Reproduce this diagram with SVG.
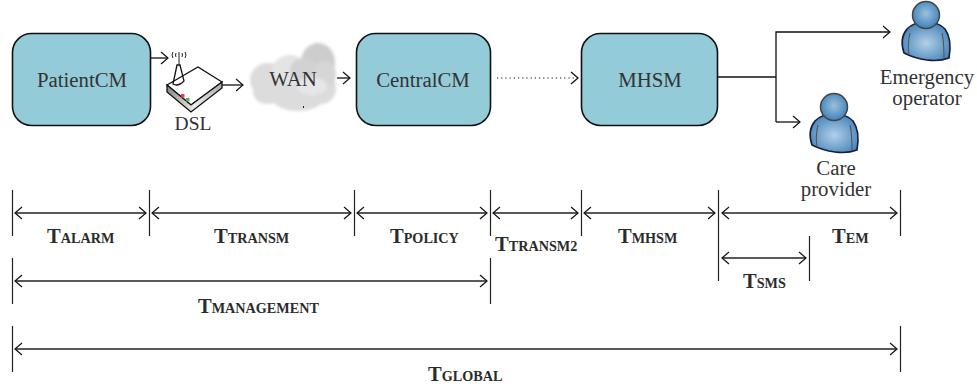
<svg xmlns="http://www.w3.org/2000/svg" width="977" height="391" viewBox="0 0 977 391">
<style>
.box{fill:#94cbd8;stroke:#111;stroke-width:1.6}
.m{font-family:"Liberation Serif",serif;font-size:20.800px;fill:#333;text-anchor:middle}
.l{font-family:"Liberation Serif",serif;font-size:20.500px;font-weight:bold;fill:#2b2b2b}
.s{font-size:14.200px}
.c{fill:none;stroke:#111;stroke-width:1.3}
.a{marker-end:url(#ah)}
.d{marker-start:url(#as);marker-end:url(#ah)}
.k{stroke:#222;stroke-width:1.2}
.o{stroke:#222;stroke-width:1.4;fill:none}
</style>
<defs>
<marker id="ah" markerWidth="12" markerHeight="14" refX="9" refY="7" orient="auto" markerUnits="userSpaceOnUse"><path d="M2 1 L9 7 L2 13" fill="none" stroke="#111" stroke-width="1.2"/></marker>
<marker id="as" markerWidth="12" markerHeight="14" refX="3" refY="7" orient="auto" markerUnits="userSpaceOnUse"><path d="M10 1 L3 7 L10 13" fill="none" stroke="#111" stroke-width="1.2"/></marker>
<radialGradient id="pb" cx="50%" cy="55%" r="60%"><stop offset="0" stop-color="#b4cfe6"/><stop offset="1" stop-color="#3f82ba"/></radialGradient>
<radialGradient id="ph" cx="50%" cy="45%" r="55%"><stop offset="0" stop-color="#9dc0de"/><stop offset="1" stop-color="#3f82ba"/></radialGradient>
<linearGradient id="rt" x1="0" y1="0" x2="1" y2="0"><stop offset="0" stop-color="#888"/><stop offset="0.5" stop-color="#eee"/><stop offset="1" stop-color="#aaa"/></linearGradient>
<filter id="bl" x="-10%" y="-10%" width="120%" height="120%"><feGaussianBlur stdDeviation="1.5"/></filter>
<g id="person">
<path d="M-19 -12 C-11 -21 11 -21 19 -12 C24 -5 25 6 23 17 C10 22 -8 19 -22 12 C-25 3 -24 -6 -19 -12Z" fill="url(#pb)" stroke="#1b1b3a" stroke-width="1.6"/>
<path d="M-16 -8 C-18 0 -18 8 -17 14 M16 -8 C18 0 18 8 18 18" fill="none" stroke="#555" stroke-width="1.1"/>
<circle cx="0" cy="-26" r="13.5" fill="url(#ph)" stroke="#444" stroke-width="1.5"/>
</g>
</defs>
<rect width="977" height="391" fill="#fff"/>

<g id="connectors">
<path class="c a" d="M151 58H168"/>
<path class="c a" d="M222 85H243"/>
<path class="c a" d="M337 78H350"/>
<path fill="none" stroke="#111" stroke-width="1.2" stroke-dasharray="1.2 3" d="M497 78H574"/>
<path class="c" d="M571 72L578 78L571 84" stroke-width="1.1"/>
<path class="c" d="M718 77H776"/>
<path class="c a" d="M776 122V32H890"/>
<path class="c a" d="M776 122H800"/>
</g>

<g id="patientcm"><rect class="box" x="12.500" y="33.500" width="138" height="92" rx="19"/><text class="m" x="82" y="87">PatientCM</text></g>

<g id="dsl">
<path d="M167 85L198 67L222 82L191 105Z" fill="#fff" stroke="#111" stroke-width="1.3"/>
<path d="M167 85L191 105L222 82V88L191 112L167 92Z" fill="url(#rt)" stroke="#111" stroke-width="1.3"/>
<path d="M173 84L177 65H180L184 81Q178 87 173 84Z" fill="none" stroke="#111" stroke-width="1.3"/>
<path d="M173 52Q171 55 173 58M185 52Q187 55 185 58M176 53Q175 55 176 57M182 53Q183 55 182 57M179 52V65" fill="none" stroke="#222" stroke-width="1"/>
<rect x="181" y="94" width="3.500" height="3.500" fill="#e04050"/>
<rect x="186" y="98" width="3.500" height="3.500" fill="#50b848"/>
<text class="m" x="193" y="130" style="font-size:19.500px">DSL</text>
</g>

<g id="wan">
<g filter="url(#bl)" fill="#dcdcdc">
<ellipse cx="268" cy="80" rx="18" ry="17"/><ellipse cx="268" cy="93" rx="15" ry="11"/><ellipse cx="298" cy="94" rx="29" ry="17"/><ellipse cx="322" cy="88" rx="14" ry="16"/>
<ellipse cx="290" cy="70" rx="18" ry="15" fill="#e4e4e4"/><ellipse cx="318" cy="62" rx="17" ry="19" fill="#cdcdcd"/><ellipse cx="304" cy="70" rx="14" ry="12" fill="#d2d2d2"/><ellipse cx="325" cy="74" rx="11" ry="13" fill="#d6d6d6"/><ellipse cx="312" cy="86" rx="15" ry="9" fill="#e6e6e6"/>
</g>
<text class="m" x="293" y="86">WAN</text>
<path d="M303.500 106V108" stroke="#222" stroke-width="1"/>
</g>

<g id="centralcm"><rect class="box" x="356.500" y="33.500" width="134" height="92" rx="19"/><text class="m" x="423" y="87">CentralCM</text></g>
<g id="mhsm"><rect class="box" x="581.500" y="33.500" width="136" height="92" rx="19"/><text class="m" x="650" y="87">MHSM</text></g>

<g id="emergency"><use href="#person" x="926" y="41"/><text class="m" x="927" y="84">Emergency</text><text class="m" x="927" y="105">operator</text></g>
<g id="care"><use href="#person" x="834" y="133"/><text class="m" x="836" y="175">Care</text><text class="m" x="836" y="196">provider</text></g>

<g id="timeline">
<path class="k" d="M12.500 190V236M149.500 190V236M354.500 190V236M490.500 190V236M581.500 190V236M718.500 190V281M900.500 190V236M12.500 258V304M490.500 258V304M12.500 326V372M900.500 326V372M809.500 236V281"/>
<path class="o d" d="M15 213H146"/><path class="o d" d="M152 213H351"/><path class="o d" d="M357 213H487"/><path class="o d" d="M493 213H578"/><path class="o d" d="M584 213H715"/><path class="o d" d="M722 213H897"/>
<path class="o d" d="M722 258H806"/><path class="o d" d="M15 281H487"/><path class="o d" d="M15 349H897"/>
<text class="l" x="47" y="243">T<tspan class="s">ALARM</tspan></text>
<text class="l" x="214" y="243">T<tspan class="s">TRANSM</tspan></text>
<text class="l" x="390" y="243">T<tspan class="s">POLICY</tspan></text>
<text class="l" x="495" y="251">T<tspan class="s">TRANSM2</tspan></text>
<text class="l" x="618" y="243">T<tspan class="s">MHSM</tspan></text>
<text class="l" x="832" y="243">T<tspan class="s">EM</tspan></text>
<text class="l" x="743" y="288">T<tspan class="s">SMS</tspan></text>
<text class="l" x="198" y="313">T<tspan class="s">MANAGEMENT</tspan></text>
<text class="l" x="428" y="381">T<tspan class="s">GLOBAL</tspan></text>
</g>
</svg>
